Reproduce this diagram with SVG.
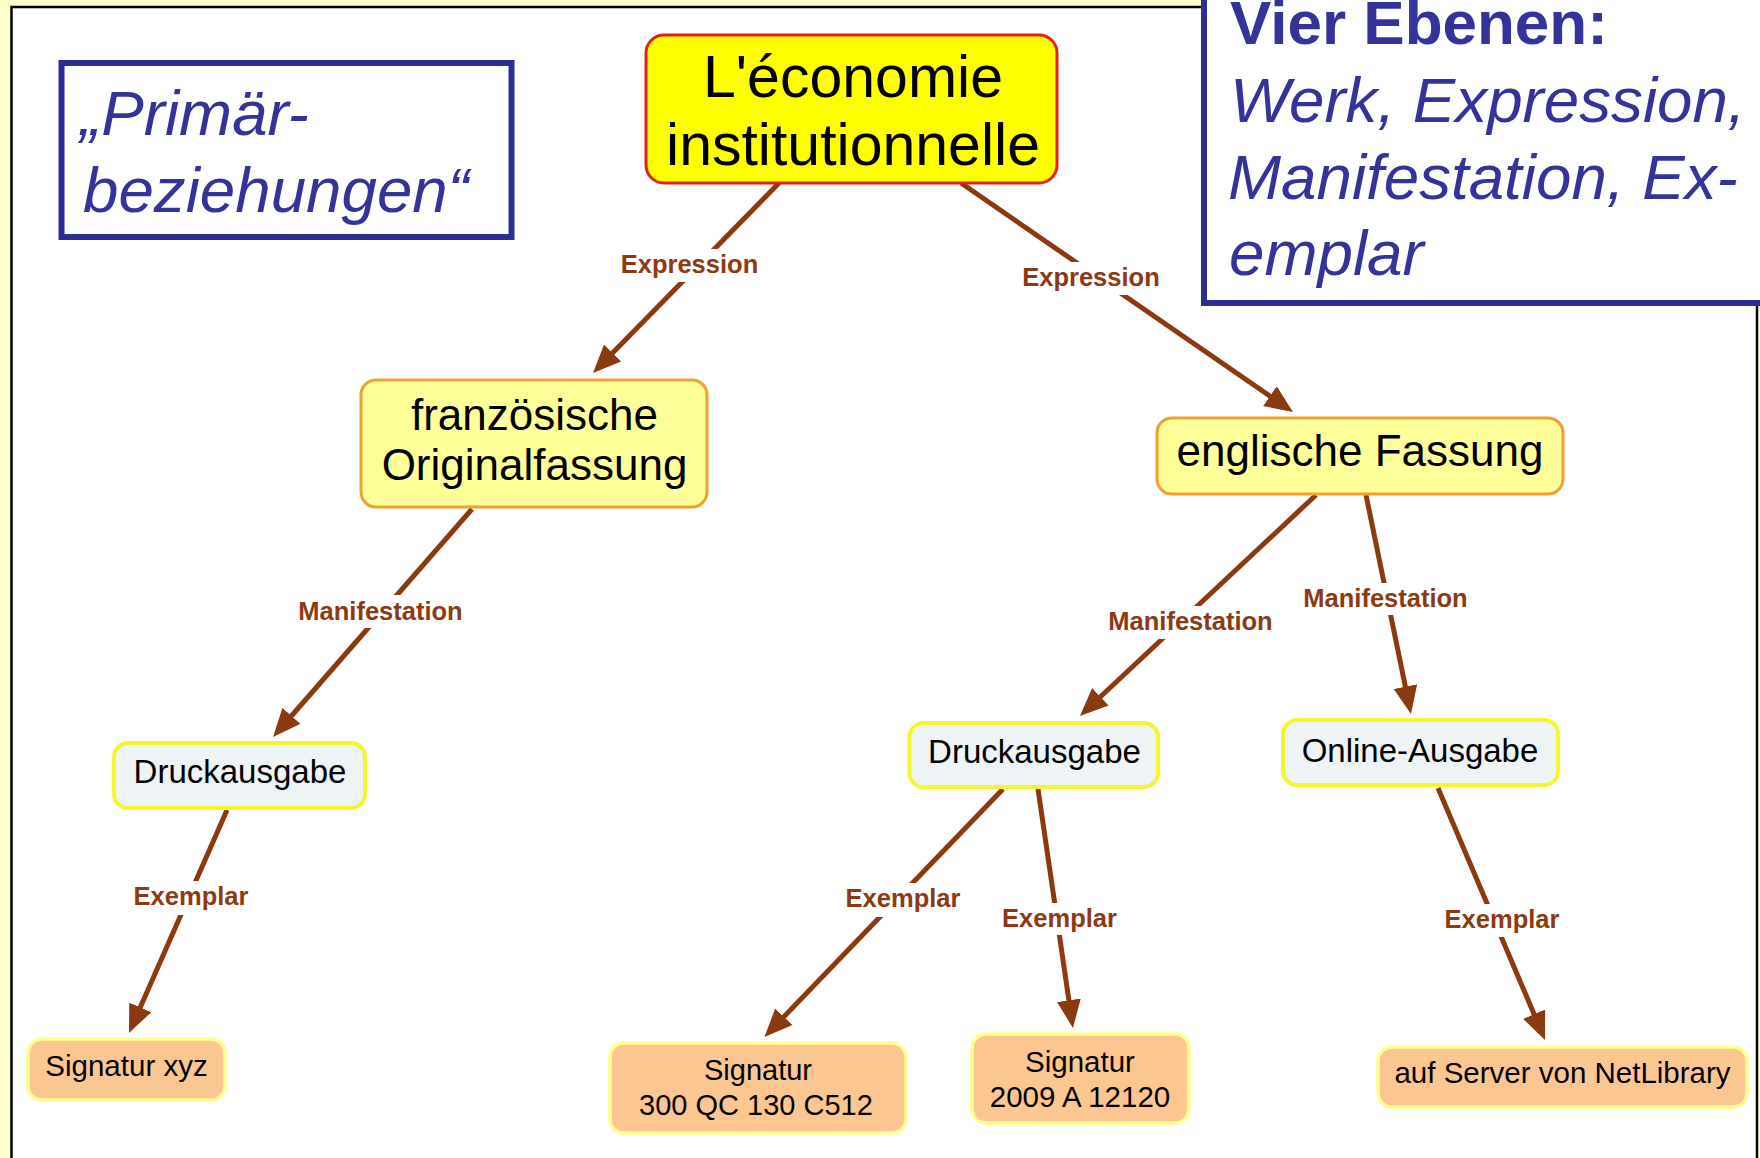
<svg xmlns="http://www.w3.org/2000/svg" width="1760" height="1158" viewBox="0 0 1760 1158">
  <style>
    text { font-family: "Liberation Sans", Arial, sans-serif; }
    .note { fill: #333399; font-size: 62px; }
    .note-i { font-style: italic; font-size: 63.7px; }
    .note-b { font-weight: bold; }
    .node-text { fill: #000; text-anchor: middle; }
    .lbl { fill: #8b3a12; font-weight: bold; font-size: 25.5px; text-anchor: middle; }
    .lbl-bg { fill: #fff; }
    .edge { stroke: #8b3a0f; stroke-width: 5; fill: none; marker-end: url(#head); }
    .n-root { fill: #ffff00; stroke: #e61e1e; stroke-width: 3; }
    .n-expr { fill: #ffff99; stroke: #f0a030; stroke-width: 3; }
    .n-man { fill: #eef3f5; stroke: #f5f530; stroke-width: 4; }
    .n-ex { fill: #fcc690; stroke: #ffff90; stroke-width: 3.5; }
  </style>
  <defs>
    <marker id="head" viewBox="0 0 28 24" refX="20" refY="12" markerWidth="28" markerHeight="24" markerUnits="userSpaceOnUse" orient="auto">
      <path d="M0,0 L28,12 L0,24 z" fill="#8b3a0f"/>
    </marker>
  </defs>

  <!-- page background and frame -->
  <rect x="0" y="0" width="1760" height="1158" fill="#ffffcc"/>
  <rect x="11.5" y="7" width="1745.5" height="1170" fill="#ffffff" stroke="#000" stroke-width="2.5"/>

  <!-- note boxes -->
  <g id="note-primaer">
    <rect x="61.5" y="63" width="450" height="174" fill="#fff" stroke="#2d2d96" stroke-width="6"/>
    <text class="note note-i" x="80" y="135">„Primär-</text>
    <text class="note note-i" x="83" y="212">beziehungen“</text>
  </g>
  <g id="note-ebenen">
    <rect x="1204" y="-10" width="600" height="313" fill="#fff" stroke="#2d2d96" stroke-width="6"/>
    <text class="note note-b" x="1230" y="44">Vier Ebenen:</text>
    <text class="note note-i" x="1230" y="122">Werk, Expression,</text>
    <text class="note note-i" x="1228" y="199">Manifestation, Ex-</text>
    <text class="note note-i" x="1229" y="275">emplar</text>
  </g>

  <!-- connectors -->
  <g id="connectors">
    <path class="edge" d="M779,183 L598.6,367.3"/>
    <path class="edge" d="M961,183 L1286.4,407.5"/>
    <path class="edge" d="M472,509 L278.3,731"/>
    <path class="edge" d="M1316,495 L1085.8,710.5"/>
    <path class="edge" d="M1366,495 L1409.4,706.2"/>
    <path class="edge" d="M227,810 L132.2,1025.7"/>
    <path class="edge" d="M1003,789 L770,1031.2"/>
    <path class="edge" d="M1038,789 L1071.8,1020.1"/>
    <path class="edge" d="M1438,788 L1541.9,1032.6"/>

    <rect class="lbl-bg" x="618" y="249" width="143" height="33"/>
    <text class="lbl" x="689.5" y="273">Expression</text>
    <rect class="lbl-bg" x="1020" y="262" width="143" height="33"/>
    <text class="lbl" x="1091" y="286">Expression</text>

    <rect class="lbl-bg" x="295" y="595" width="171" height="33"/>
    <text class="lbl" x="380.5" y="619.5">Manifestation</text>
    <rect class="lbl-bg" x="1105" y="606" width="171" height="33"/>
    <text class="lbl" x="1190.5" y="630">Manifestation</text>
    <rect class="lbl-bg" x="1300" y="583" width="171" height="32"/>
    <text class="lbl" x="1385.5" y="607">Manifestation</text>

    <rect class="lbl-bg" x="131" y="881" width="120" height="34"/>
    <text class="lbl" x="191" y="905">Exemplar</text>
    <rect class="lbl-bg" x="843" y="883" width="120" height="34"/>
    <text class="lbl" x="903" y="907">Exemplar</text>
    <rect class="lbl-bg" x="999.5" y="903" width="120" height="32"/>
    <text class="lbl" x="1059.5" y="927">Exemplar</text>
    <rect class="lbl-bg" x="1442" y="904" width="120" height="33"/>
    <text class="lbl" x="1502" y="928">Exemplar</text>
  </g>

  <!-- nodes -->
  <g id="werk">
    <rect class="n-root" x="646" y="35" width="411" height="148" rx="18"/>
    <text class="node-text" x="853" y="97" font-size="59">L'économie</text>
    <text class="node-text" x="853" y="165" font-size="59">institutionnelle</text>
  </g>
  <g id="expr-fr">
    <rect class="n-expr" x="361" y="380" width="346" height="127" rx="15"/>
    <text class="node-text" x="534.5" y="430" font-size="44">französische</text>
    <text class="node-text" x="534.5" y="480" font-size="44">Originalfassung</text>
  </g>
  <g id="expr-en">
    <rect class="n-expr" x="1157" y="418" width="406" height="76" rx="15"/>
    <text class="node-text" x="1360" y="466" font-size="44">englische Fassung</text>
  </g>
  <g id="man-fr-druck">
    <rect class="n-man" x="114" y="743" width="251" height="65" rx="14"/>
    <text class="node-text" x="240" y="783" font-size="33">Druckausgabe</text>
  </g>
  <g id="man-en-druck">
    <rect class="n-man" x="909.5" y="723" width="248.5" height="64" rx="14"/>
    <text class="node-text" x="1034.5" y="763" font-size="33">Druckausgabe</text>
  </g>
  <g id="man-en-online">
    <rect class="n-man" x="1283" y="720" width="275" height="65" rx="14"/>
    <text class="node-text" x="1420" y="762" font-size="33">Online-Ausgabe</text>
  </g>
  <g id="ex-xyz">
    <rect class="n-ex" x="28" y="1039" width="197" height="61" rx="14"/>
    <text class="node-text" x="126.5" y="1076" font-size="29.5">Signatur xyz</text>
  </g>
  <g id="ex-300qc">
    <rect class="n-ex" x="610" y="1043" width="296" height="90" rx="14"/>
    <text class="node-text" x="758" y="1080" font-size="29">Signatur</text>
    <text class="node-text" x="756" y="1115" font-size="29">300 QC 130 C512</text>
  </g>
  <g id="ex-2009">
    <rect class="n-ex" x="972" y="1034" width="217" height="89" rx="14"/>
    <text class="node-text" x="1080" y="1072" font-size="29.5">Signatur</text>
    <text class="node-text" x="1080" y="1107" font-size="29.5">2009 A 12120</text>
  </g>
  <g id="ex-netlibrary">
    <rect class="n-ex" x="1378" y="1047" width="369" height="60" rx="14"/>
    <text class="node-text" x="1562.5" y="1083" font-size="29.5">auf Server von NetLibrary</text>
  </g>
</svg>
